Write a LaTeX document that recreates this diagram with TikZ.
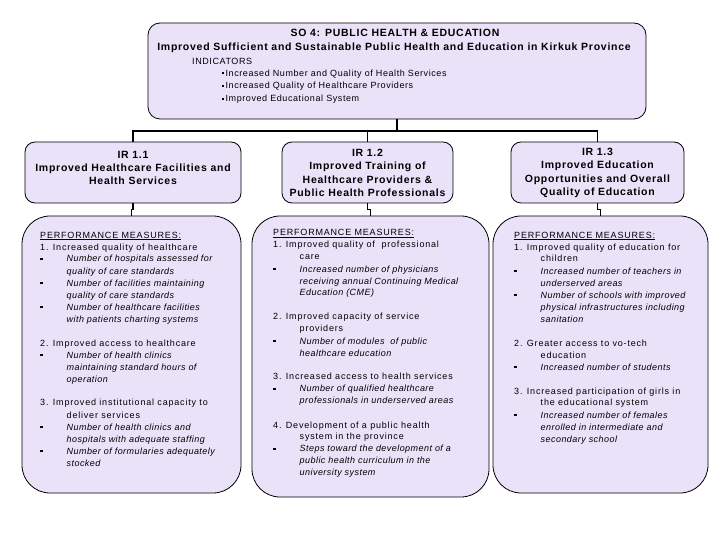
\documentclass[tikz,border=0pt]{standalone}
\usepackage{fontspec}
\setmainfont{Liberation Sans}
\newfontfamily\ttlfont{Liberation Sans}[LetterSpace=7]
\newfontfamily\pmfont{Liberation Sans}[LetterSpace=9]
\newfontfamily\pmital{Liberation Sans}[LetterSpace=5]
\newfontfamily\indfont{Liberation Sans}[LetterSpace=6.5]
\definecolor{boxfill}{RGB}{234,226,249}
\newcommand\pmnum[1]{\par\hangindent=26.5pt\hangafter=1\noindent #1\par}
\newcommand\pmbul[1]{\par\hangindent=26.5pt\hangafter=0\noindent\llap{\makebox[26.5pt][l]{\rule[1.8pt]{2.6pt}{2.6pt}}}{\pmital\itshape #1}\par}
\newcommand\pmgap{\vspace{12pt}}
\newcommand\pmblock[1]{\parbox[t]{214pt}{\pmfont\fontsize{9}{12}\selectfont\raggedright\parindent=0pt\parskip=0pt #1}}
\newcommand\indbul{\rule[2pt]{2.2pt}{2.2pt}\hspace{1.2pt}}
\begin{document}
\begin{tikzpicture}[x=1pt,y=-1pt,
  box/.style={draw=black,line width=0.8pt,fill=boxfill,inner sep=0pt,outer sep=0pt},
  topbox/.style={box,rounded corners=12pt},
  irbox/.style={box,rounded corners=10pt},
  pmbox/.style={box,rounded corners=28pt},
  ttl/.style={font=\ttlfont\bfseries\fontsize{10.5}{13.3}\selectfont,inner sep=0pt},
  irtext/.style={ttl,align=center},
  ind/.style={font=\indfont\fontsize{9}{12}\selectfont,inner sep=0pt,anchor=base west},
  pmtext/.style={inner sep=0pt,anchor=base west},
  conn/.style={draw=black,line width=1.2pt}]
\useasboundingbox (0,0) rectangle (720,540);
\fill[white] (0,0) rectangle (720,540);

% top box
\node[topbox,minimum width=498pt,minimum height=96pt] (top) at (397,71) {};
\node[ttl,anchor=base] (t1) at (395,37) {SO 4: PUBLIC HEALTH \& EDUCATION};
\node[ttl,anchor=base] (t2) at (394,51) {Improved Sufficient and Sustainable Public Health and Education in Kirkuk Province};
\node[ind] (i0) at (192,65) {INDICATORS};
\node[ind] (i1) at (222,76.5) {\indbul Increased Number and Quality of Health Services};
\node[ind] (i2) at (222,89) {\indbul Increased Quality of Healthcare Providers};
\node[ind] (i3) at (222,102) {\indbul Improved Educational System};

% IR boxes
\node[irbox,minimum width=216pt,minimum height=61pt] (ir1) at (133,172.5) {};
\node[irbox,minimum width=171pt,minimum height=61pt] (ir2) at (367.5,172.5) {};
\node[irbox,minimum width=173pt,minimum height=61pt] (ir3) at (597.5,172.5) {};
\node[irtext] (ir1t) at (133,168) {IR 1.1\\Improved Healthcare Facilities and\\Health Services};
\node[irtext] (ir2t) at (367.5,173) {IR 1.2\\Improved Training of\\Healthcare Providers \&\\Public Health Professionals};
\node[irtext] (ir3t) at (597.5,173) {IR 1.3\\Improved Education\\Opportunities and Overall\\Quality of Education};

% PM boxes
\node[pmbox,minimum width=219pt,minimum height=277pt] (pm1) at (131.5,354.5) {};
\node[pmbox,minimum width=237pt,minimum height=281pt] (pm2) at (370.5,356.5) {};
\node[pmbox,minimum width=215pt,minimum height=277pt] (pm3) at (600.5,354.5) {};

% connectors
\draw[conn] (top.south) -- ++(0,12) -| (ir1.north);
\draw[conn] (top.south) -- ++(0,12) -| (ir2.north);
\draw[conn] (top.south) -- ++(0,12) -| (ir3.north);
\draw[conn] (ir1.south) -- ++(0,6.5) -| (pm1.north);
\draw[conn] (ir2.south) -- ++(0,6.5) -| (pm2.north);
\draw[conn] (ir3.south) -- ++(0,6.5) -| (pm3.north);

% PM texts
\node[pmtext] (pm1t) at (40,238) {\pmblock{%
\underline{PERFORMANCE MEASURES:}\par
\pmnum{1. Increased quality of healthcare}
\pmbul{Number of hospitals assessed for\newline quality of care standards}
\pmbul{Number of facilities maintaining\newline quality of care standards}
\pmbul{Number of healthcare facilities\newline with patients charting systems}
\pmgap
\pmnum{2. Improved access to healthcare}
\pmbul{Number of health clinics\newline maintaining standard hours of\newline operation}
\pmgap
\pmnum{3. Improved institutional capacity to\newline deliver services}
\pmbul{Number of health clinics and\newline hospitals with adequate staffing}
\pmbul{Number of formularies adequately\newline stocked}}};

\node[pmtext] (pm2t) at (273,236) {\pmblock{%
\underline{PERFORMANCE MEASURES:}\par
\pmnum{1. Improved quality of\ \ professional\newline care}
\pmbul{Increased number of physicians\newline receiving annual Continuing Medical\newline Education (CME)}
\pmgap
\pmnum{2. Improved capacity of service\newline providers}
\pmbul{Number of modules\ \ of public\newline healthcare education}
\pmgap
\pmnum{3. Increased access to health services}
\pmbul{Number of qualified healthcare\newline professionals in underserved areas}
\pmgap
\pmnum{4. Development of a public health\newline system in the province}
\pmbul{Steps toward the development of a\newline public health curriculum in the\newline university system}}};

\node[pmtext] (pm3t) at (514,238) {\pmblock{%
\underline{PERFORMANCE MEASURES:}\par
\pmnum{1. Improved quality of education for\newline children}
\pmbul{Increased number of teachers in\newline underserved areas}
\pmbul{Number of schools with improved\newline physical infrastructures including\newline sanitation}
\pmgap
\pmnum{2. Greater access to vo-tech\newline education}
\pmbul{Increased number of students}
\pmgap
\pmnum{3. Increased participation of girls in\newline the educational system}
\pmbul{Increased number of females\newline enrolled in intermediate and\newline secondary school}}};
\end{tikzpicture}
\end{document}
